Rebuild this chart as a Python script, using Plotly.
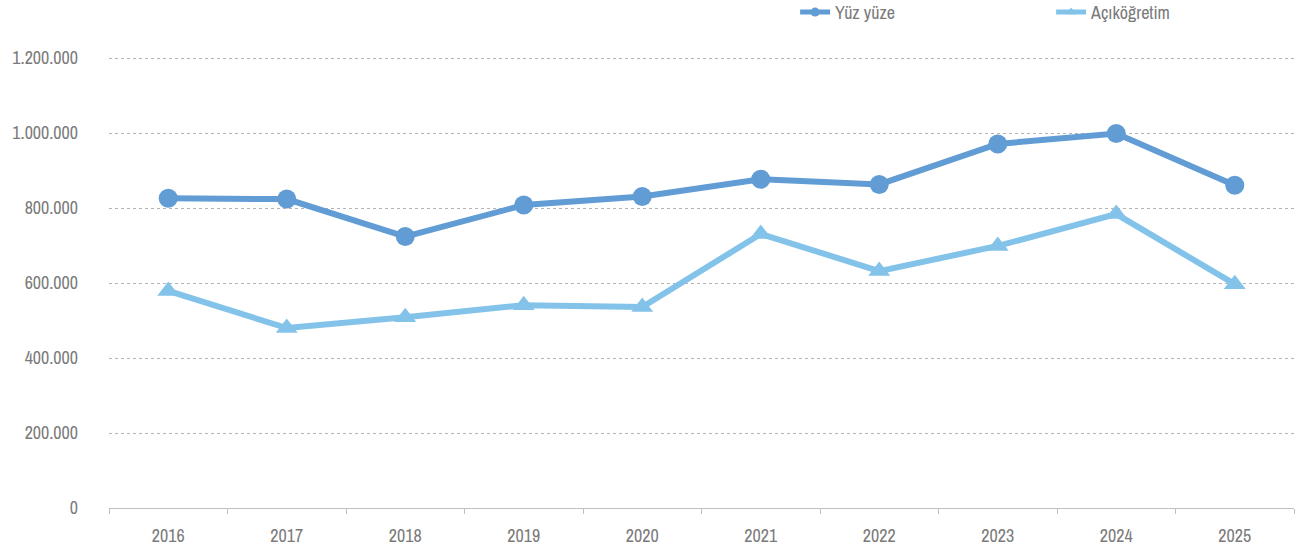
import plotly.graph_objects as go

years = ["2016", "2017", "2018", "2019", "2020", "2021", "2022", "2023", "2024", "2025"]
yuz_yuze = [826000, 824000, 724000, 808000, 831000, 877000, 863000, 971000, 999000, 861000]
acikogretim = [579000, 480000, 509000, 541000, 536000, 731000, 632000, 699000, 784000, 597000]
y_ticks = [0, 200000, 400000, 600000, 800000, 1000000, 1200000]
series_names = ["Yüz yüze", "Açıköğretim"]

FONT = "Archivo Narrow, Liberation Sans Narrow, Arial Narrow, Liberation Sans, Arial"
TXT = "#7A7A7A"
C1 = "#619CD4"
C2 = "#83C3EA"

fig = go.Figure()
fig.add_trace(go.Scatter(
    x=years, y=yuz_yuze, name=series_names[0], mode="lines+markers", showlegend=False,
    line=dict(color=C1, width=6),
    marker=dict(symbol="circle", size=19, color=C1),
))
fig.add_trace(go.Scatter(
    x=years, y=acikogretim, name=series_names[1], mode="lines+markers", showlegend=False,
    line=dict(color=C2, width=6),
    marker=dict(symbol="triangle-up", size=19, color=C2),
))
# legend entries (small markers as in the reference)
fig.add_trace(go.Scatter(
    x=[None], y=[None], name=series_names[0], mode="lines+markers",
    line=dict(color=C1, width=5), marker=dict(symbol="circle", size=9, color=C1),
))
fig.add_trace(go.Scatter(
    x=[None], y=[None], name=series_names[1], mode="lines+markers",
    line=dict(color=C2, width=5), marker=dict(symbol="triangle-up", size=9, color=C2),
))

fig.update_layout(
    width=1298, height=553,
    margin=dict(l=109, r=4, t=57, b=45, autoexpand=False),
    plot_bgcolor="white", paper_bgcolor="white",
    separators=",.",
    font=dict(family=FONT, size=18, color=TXT),
    showlegend=True,
    legend=dict(orientation="h", x=0.579, y=1.14, yanchor="top", yref="paper",
                xanchor="left", entrywidth=211, entrywidthmode="pixels",
                font=dict(family=FONT, size=18, color=TXT)),
    xaxis=dict(
        type="category", range=[-0.5, 9.5], tickson="boundaries", ticks="outside", ticklen=5,
        tickcolor="#BFBFBF", showgrid=False, showline=True,
        linecolor="#BFBFBF", linewidth=1, zeroline=False, automargin=False,
        ticklabelstandoff=11,
        tickfont=dict(family=FONT, size=18, color=TXT),
    ),
    yaxis=dict(
        range=[0, 1203000], tickvals=y_ticks, tickformat=",d",
        showgrid=True, gridcolor="#B4B4B4", griddash="dot", gridwidth=1.3,
        zeroline=False, showline=False, ticks="", ticklabelstandoff=30,
        automargin=False,
        tickfont=dict(family=FONT, size=18, color=TXT),
    ),
)
fig.write_html("out.html", config={"displayModeBar": False},
               post_script="document.body.style.margin='0';")
